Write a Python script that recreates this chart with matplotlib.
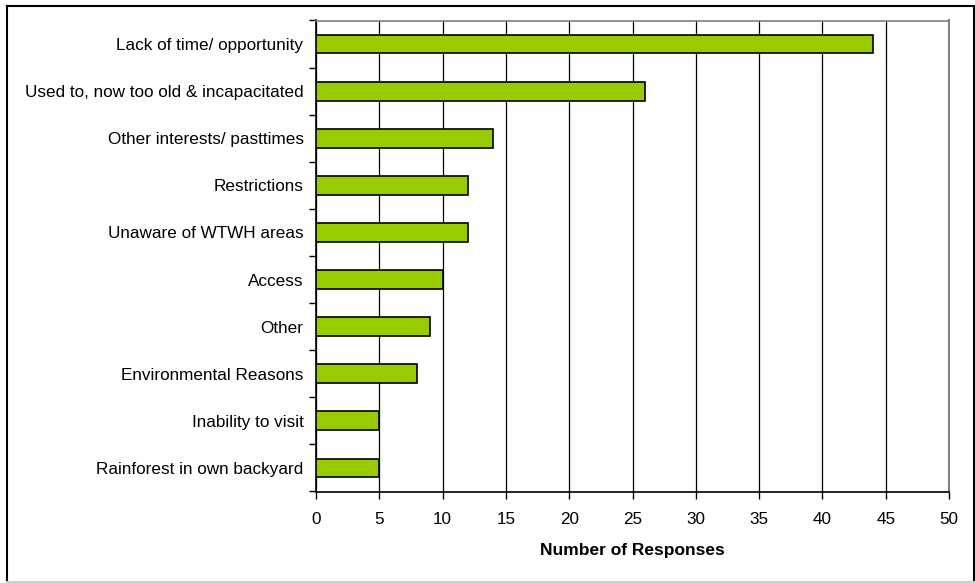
import matplotlib.pyplot as plt
from matplotlib.lines import Line2D

plt.rcParams['font.family'] = ['Liberation Sans', 'DejaVu Sans']

reasons = ['Lack of time/ opportunity', 'Used to, now too old & incapacitated',
           'Other interests/ pasttimes', 'Restrictions', 'Unaware of WTWH areas',
           'Access', 'Other', 'Environmental Reasons', 'Inability to visit',
           'Rainforest in own backyard']
responses = [44, 26, 14, 12, 12, 10, 9, 8, 5, 5]
xticks = [0, 5, 10, 15, 20, 25, 30, 35, 40, 45, 50]

fig = plt.figure(figsize=(9.75, 5.83), dpi=100)
ax = fig.add_axes([316 / 975, 1 - 491.5 / 583, (949 - 316) / 975, (491.5 - 20.5) / 583])

pos = list(range(len(reasons)))
ax.barh(pos, responses, height=0.4, color='#99CC00', edgecolor='black', linewidth=1.2, zorder=3)
ax.set_ylim(len(reasons) - 0.5, -0.5)
ax.set_xlim(0, 50)

ax.set_xticks(xticks)
ax.set_xticklabels([str(t) for t in xticks], fontsize=12.3)
ax.xaxis.grid(True, color='black', linewidth=0.9, zorder=0)

# category labels sit between the tick marks
ax.set_yticks([p + 0.5 for p in pos[:-1]] + [-0.5, len(reasons) - 0.5])
ax.set_yticklabels([])
ax.set_yticks(pos, minor=True)
ax.set_yticklabels(reasons, minor=True, fontsize=12.3)
ax.tick_params(axis='y', which='minor', length=0, pad=9)
ax.tick_params(axis='y', which='major', length=5, width=1)
ax.tick_params(axis='x', length=5, width=1, pad=9.5)

ax.spines['left'].set_linewidth(1.2)
ax.spines['bottom'].set_linewidth(1.2)
ax.spines['top'].set_color('#808080')
ax.spines['right'].set_color('#808080')
ax.spines['top'].set_linewidth(1.2)
ax.spines['right'].set_linewidth(1.5)

ax.set_xlabel('Number of Responses', fontsize=12.5, fontweight='bold', labelpad=11.5)

# chart border
border = [((7, 7), (6, 582), 'black'), ((7, 974), (6, 6), 'black'),
          ((974, 974), (6, 582), 'black'), ((7, 974), (582, 582), '#d0d0d0')]
for xs, ys, c in border:
    fig.add_artist(Line2D([x / 975 for x in xs], [1 - y / 583 for y in ys],
                          color=c, linewidth=1.5))

fig.savefig('out.png', dpi=100)
